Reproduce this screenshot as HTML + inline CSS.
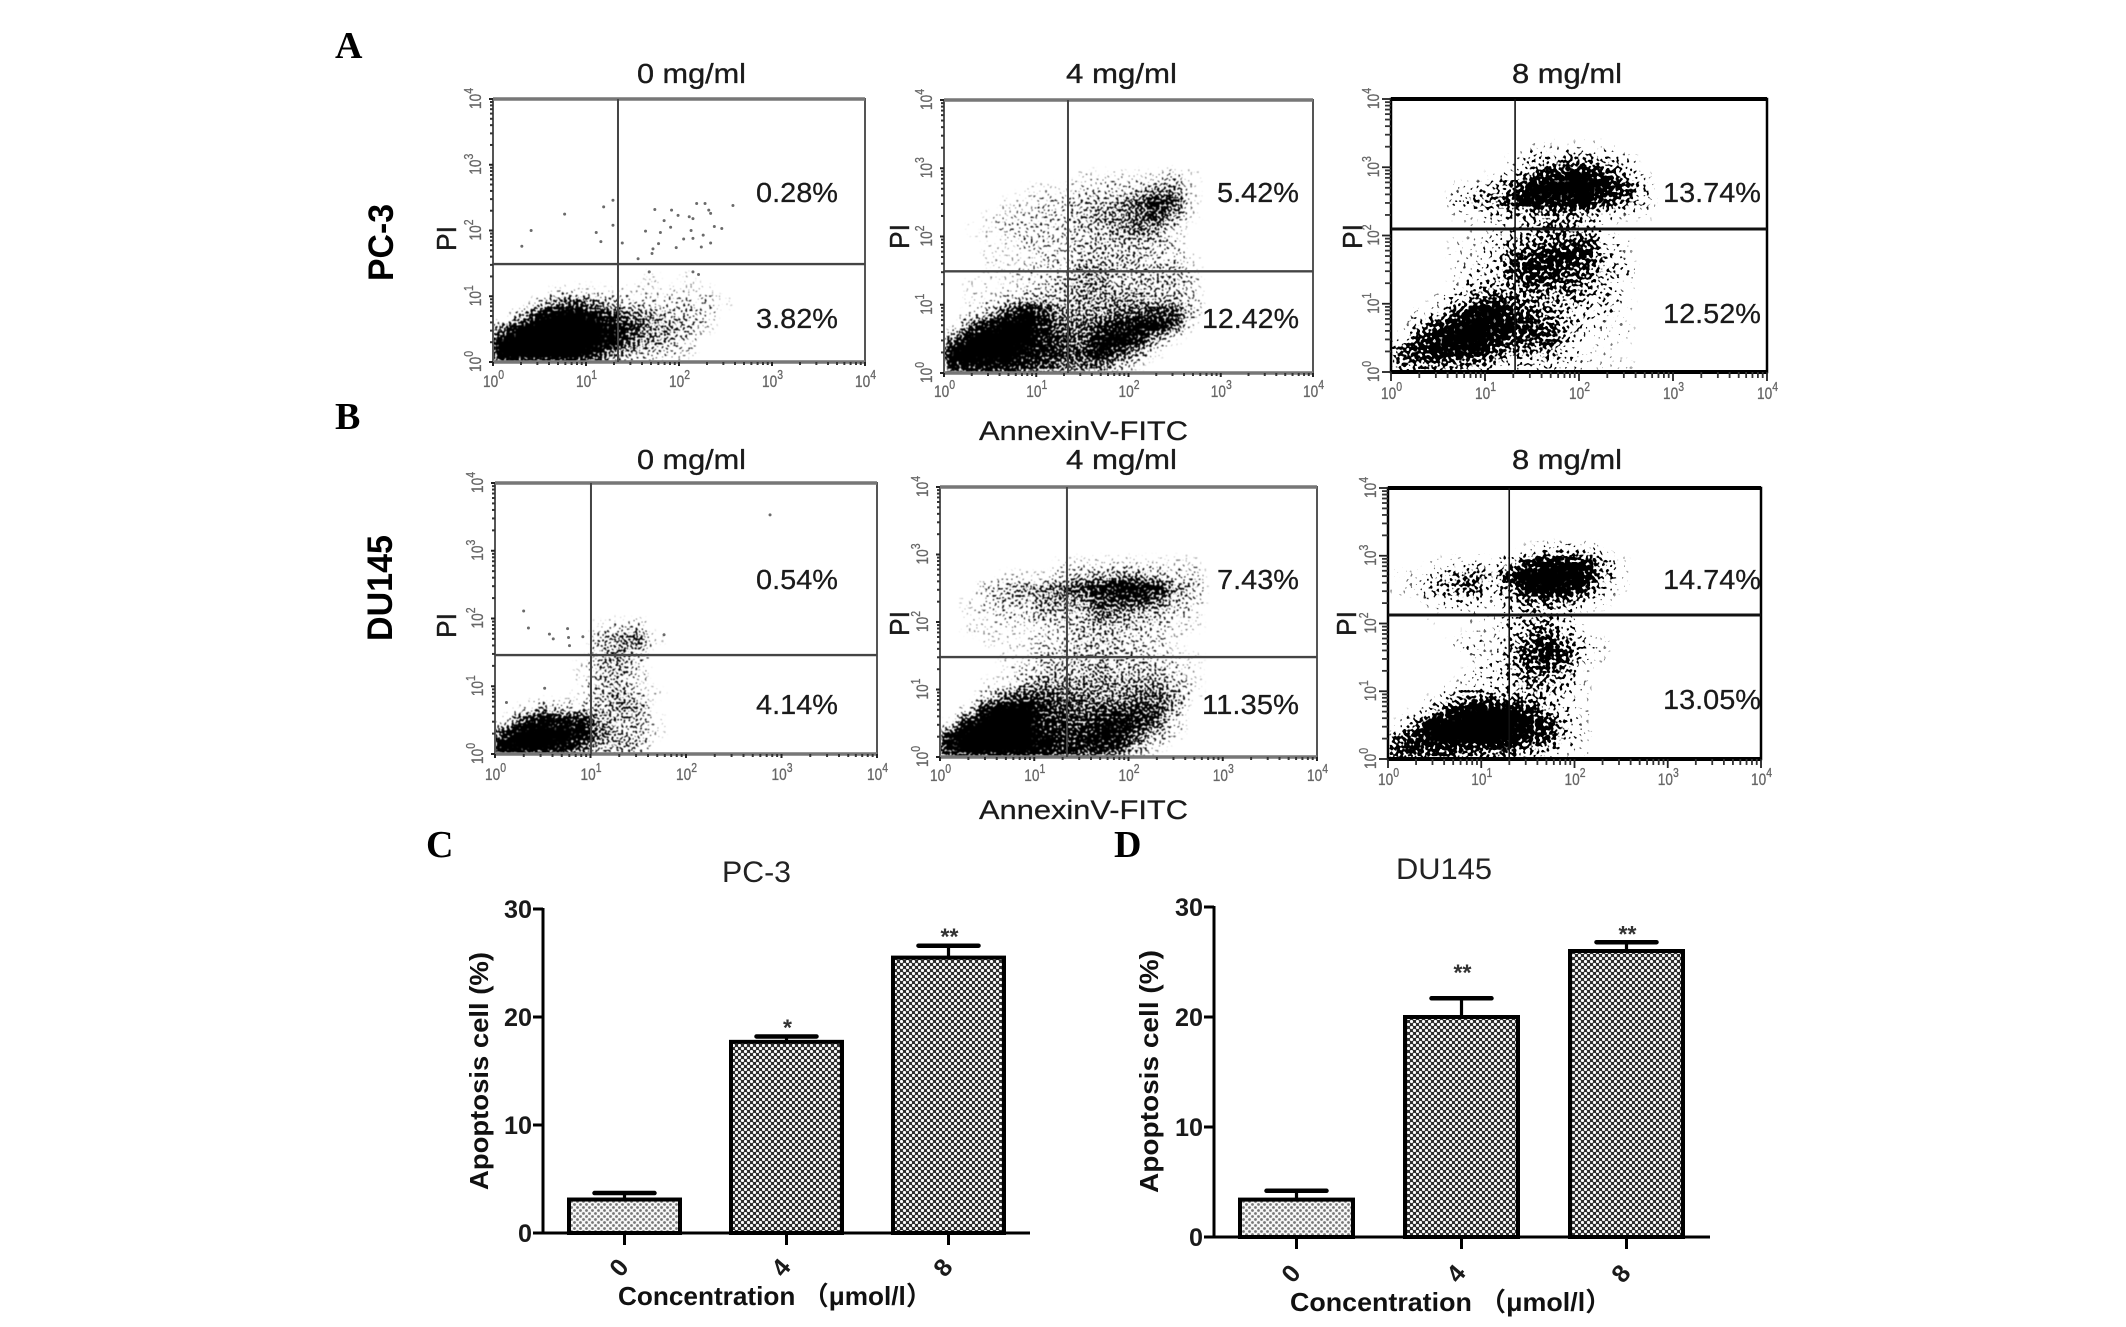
<!DOCTYPE html>
<html lang="en">
<head>
<meta charset="utf-8">
<title>Apoptosis flow cytometry figure</title>
<style>
html,body{margin:0;padding:0;background:#fff;}
svg{display:block;}
text{font-family:"Liberation Sans","Noto Sans CJK SC",sans-serif;fill:#1a1a1a;}
.letter{font-family:"Liberation Serif",serif;font-weight:bold;font-size:38px;fill:#000;}
.cond{font-size:28px;stroke:#1a1a1a;stroke-width:.35;}
.pct{font-size:28px;stroke:#1a1a1a;stroke-width:.25;}
.side{font-size:35px;font-weight:bold;fill:#000;}
.pi{font-size:28px;stroke:#1a1a1a;stroke-width:.4;}
.annex{font-size:27px;stroke:#1a1a1a;stroke-width:.25;}
.bt{font-size:30px;fill:#222;}
.ax{font-size:26px;font-weight:bold;fill:#111;}
</style>
</head>
<body>
<svg id="figure" xmlns="http://www.w3.org/2000/svg" width="2126" height="1327" viewBox="0 0 2126 1327">
<defs>
<pattern id="darkHatch" width="6" height="6" patternUnits="userSpaceOnUse">
<rect width="6" height="6" fill="#2c2c2c"/>
<circle cx="1.5" cy="1.5" r="1.6" fill="#fafafa"/>
<circle cx="4.5" cy="4.5" r="1.6" fill="#fafafa"/>
</pattern>
<pattern id="lightHatch" width="6" height="6" patternUnits="userSpaceOnUse">
<rect width="6" height="6" fill="#f6f6f6"/>
<circle cx="1.5" cy="1.5" r="1.4" fill="#777"/>
<circle cx="4.5" cy="4.5" r="1.4" fill="#777"/>
</pattern>
</defs>

<text class="letter" x="335" y="58">A</text>
<text class="letter" x="335" y="429">B</text>
<text class="letter" x="426" y="857">C</text>
<text class="letter" x="1114" y="857">D</text>

<text class="side" transform="translate(393,281) rotate(-90)" textLength="77" lengthAdjust="spacingAndGlyphs">PC-3</text>
<text class="side" transform="translate(392,641) rotate(-90)" textLength="106" lengthAdjust="spacingAndGlyphs">DU145</text>

<text class="cond" x="637" y="83" textLength="109" lengthAdjust="spacingAndGlyphs">0 mg/ml</text>
<text class="cond" x="1066" y="83" textLength="111" lengthAdjust="spacingAndGlyphs">4 mg/ml</text>
<text class="cond" x="1512" y="83" textLength="110" lengthAdjust="spacingAndGlyphs">8 mg/ml</text>
<text class="cond" x="637" y="469" textLength="109" lengthAdjust="spacingAndGlyphs">0 mg/ml</text>
<text class="cond" x="1066" y="469" textLength="111" lengthAdjust="spacingAndGlyphs">4 mg/ml</text>
<text class="cond" x="1512" y="469" textLength="110" lengthAdjust="spacingAndGlyphs">8 mg/ml</text>

<text class="annex" x="979" y="440" textLength="209" lengthAdjust="spacingAndGlyphs">AnnexinV-FITC</text>
<text class="annex" x="979" y="819" textLength="209" lengthAdjust="spacingAndGlyphs">AnnexinV-FITC</text>

<text class="pi" transform="translate(456,251) rotate(-90)" textLength="25" lengthAdjust="spacingAndGlyphs">PI</text>
<text class="pi" transform="translate(909,249) rotate(-90)" textLength="25" lengthAdjust="spacingAndGlyphs">PI</text>
<text class="pi" transform="translate(1362,249) rotate(-90)" textLength="25" lengthAdjust="spacingAndGlyphs">PI</text>
<text class="pi" transform="translate(456,638) rotate(-90)" textLength="25" lengthAdjust="spacingAndGlyphs">PI</text>
<text class="pi" transform="translate(909,636) rotate(-90)" textLength="25" lengthAdjust="spacingAndGlyphs">PI</text>
<text class="pi" transform="translate(1356,636) rotate(-90)" textLength="25" lengthAdjust="spacingAndGlyphs">PI</text>

<g id="flowLayer"></g>

<text class="pct" x="756" y="202" textLength="82" lengthAdjust="spacingAndGlyphs">0.28%</text>
<text class="pct" x="756" y="328" textLength="82" lengthAdjust="spacingAndGlyphs">3.82%</text>
<text class="pct" x="1217" y="202" textLength="82" lengthAdjust="spacingAndGlyphs">5.42%</text>
<text class="pct" x="1202" y="328" textLength="97" lengthAdjust="spacingAndGlyphs">12.42%</text>
<text class="pct" x="1663" y="202" textLength="98" lengthAdjust="spacingAndGlyphs">13.74%</text>
<text class="pct" x="1663" y="323" textLength="98" lengthAdjust="spacingAndGlyphs">12.52%</text>
<text class="pct" x="756" y="589" textLength="82" lengthAdjust="spacingAndGlyphs">0.54%</text>
<text class="pct" x="756" y="714" textLength="82" lengthAdjust="spacingAndGlyphs">4.14%</text>
<text class="pct" x="1217" y="589" textLength="82" lengthAdjust="spacingAndGlyphs">7.43%</text>
<text class="pct" x="1202" y="714" textLength="97" lengthAdjust="spacingAndGlyphs">11.35%</text>
<text class="pct" x="1663" y="589" textLength="98" lengthAdjust="spacingAndGlyphs">14.74%</text>
<text class="pct" x="1663" y="709" textLength="98" lengthAdjust="spacingAndGlyphs">13.05%</text>

<g id="barLayer"></g>

<text class="bt" x="722" y="882" textLength="69" lengthAdjust="spacingAndGlyphs">PC-3</text>
<text class="bt" x="1396" y="879" textLength="96" lengthAdjust="spacingAndGlyphs">DU145</text>
<text class="ax" transform="translate(488,1190) rotate(-90)" textLength="238" lengthAdjust="spacingAndGlyphs">Apoptosis cell (%)</text>
<text class="ax" transform="translate(1158,1193) rotate(-90)" textLength="243" lengthAdjust="spacingAndGlyphs">Apoptosis cell (%)</text>
<text class="ax" x="618" y="1305" textLength="314" lengthAdjust="spacingAndGlyphs">Concentration （μmol/l）</text>
<text class="ax" x="1290" y="1311" textLength="322" lengthAdjust="spacingAndGlyphs">Concentration （μmol/l）</text>
</svg>

<script>
// Tick exponents shared by all flow plots
const flowTickExponents = [0, 1, 2, 3, 4];

// Density of events per 0.2-decade cell (0-9); rows listed from the bottom (PI 10^0) upward
const a0Density = [
[9,9,9,9,9,7,4,3,2,2,1],
[9,9,9,9,9,9,8,5,4,3,2],
[5,9,9,9,9,9,8,6,4,4,3,1],
[0,3,8,9,9,8,6,5,4,3,3,2],
[0,0,2,5,6,4,3,2,2,2,2,2,1],
[0,0,0,1,1,1,1,1,1,1,1,1],
[0,0,0,0,0,0,0,0,1,0,1]
];
const a4Density = [
[7,8,8,8,7,6,5,5,5,3,1],
[9,9,9,9,8,7,6,6,8,6,4,1],
[5,9,9,9,9,7,6,5,8,9,7,4,1],
[1,5,8,9,9,7,5,5,6,7,8,8,6,1],
[0,1,3,6,8,6,4,4,4,5,5,6,6,2],
[0,1,1,2,3,3,3,4,4,4,4,3,3,2],
[0,1,1,1,1,2,3,4,4,3,3,3,3,2],
[0,0,1,1,2,2,2,4,4,3,3,3,3,1],
[0,0,1,1,1,2,2,3,3,3,3,2,2,1],
[0,0,1,1,2,2,2,3,3,3,3,3,2],
[0,1,1,2,2,2,2,3,3,4,5,4,2],
[0,0,1,2,2,2,2,3,4,4,5,6,4,1],
[0,0,0,1,1,2,2,3,3,4,5,7,6,1],
[0,0,0,0,1,1,1,2,2,2,3,4,4,1],
[0,0,0,0,0,0,0,1,1,1,1,1,2,1]
];
const a8Density = [
[5,4,5,4,4,3,2,2,2,2,1,1,1],
[5,7,8,8,8,6,4,4,4,2,1,1],
[1,6,8,9,9,8,6,6,6,3,1,1,1],
[0,3,6,8,9,8,8,6,5,3,2,1,1],
[0,1,2,5,8,9,6,5,4,3,2,2,1],
[0,0,1,2,4,5,5,4,4,4,3,3,1],
[0,0,0,1,3,3,4,6,5,5,4,2,1],
[0,0,0,1,2,2,6,7,7,6,5,3,2],
[0,0,0,1,1,2,5,6,8,7,6,3,1],
[0,0,0,1,1,2,3,4,5,5,6,2,1],
[0,0,0,0,1,1,2,3,5,4,3,1],
[0,0,0,1,1,2,3,3,4,4,3,2,1,1],
[0,0,0,2,4,4,6,8,8,8,8,6,4,2],
[0,0,0,1,2,3,5,9,9,9,9,8,6,3],
[0,0,0,0,0,1,2,4,7,8,8,6,3,1],
[0,0,0,0,0,0,1,3,3,4,4,3,2],
[0,0,0,0,0,0,0,1,1,1,1,1]
];
const b0Density = [
[9,9,9,8,6,3,4,3],
[7,9,9,9,8,5,3,3,1],
[1,6,8,7,7,4,3,3,1],
[0,1,3,2,2,3,4,4],
[0,0,0,0,1,3,4,2,1],
[0,0,0,0,1,3,3,2],
[0,0,0,0,1,3,4,2],
[0,0,0,0,0,3,4,3],
[0,0,0,0,0,3,4,5,1],
[0,0,0,0,0,1,2,2]
];
const b4Density = [
[8,9,9,9,9,8,7,7,7,6,3,1],
[8,9,9,9,9,8,7,7,8,8,5,3,1],
[1,8,9,9,9,7,6,6,7,8,7,5,2],
[0,2,8,9,9,7,6,5,6,6,6,6,3],
[0,0,2,5,6,6,5,5,4,4,5,5,4,1],
[0,0,1,1,3,4,4,4,4,4,4,4,3,1],
[0,0,0,1,2,3,3,3,4,3,3,3,2,1],
[0,0,0,1,1,2,3,3,3,3,3,2,1,1],
[0,0,1,1,1,2,2,3,3,3,2,2,1],
[0,1,1,1,1,2,2,3,3,3,3,2,1,1],
[0,1,1,2,2,3,3,3,5,4,3,3,2,1],
[0,1,2,3,3,4,4,4,6,6,6,5,3,2],
[0,0,2,3,4,4,5,6,7,8,8,7,4,3],
[0,0,0,1,1,1,2,3,3,4,4,3,2,2],
[0,0,0,0,0,0,1,1,1,1,1,1,1,1]
];
const b8Density = [
[6,6,6,6,5,5,5,3,3,1,1],
[5,7,9,9,9,9,9,6,6,3,1],
[1,5,9,9,9,9,9,8,7,3,1],
[0,1,4,8,9,9,9,7,4,2,1],
[0,0,1,3,5,5,4,4,3,2,1],
[0,0,0,1,2,2,2,4,4,3,1],
[0,0,0,0,1,2,3,5,5,4,1],
[0,0,0,0,1,1,3,6,7,6,2,1],
[0,0,0,1,2,1,3,5,7,5,2,1],
[0,0,0,0,1,1,2,4,5,3,1],
[0,0,1,0,1,1,2,3,3,2],
[0,0,2,2,2,1,2,4,4,4,2,1],
[1,1,3,4,5,2,4,8,9,8,6,2,1],
[1,1,2,4,5,3,6,9,9,9,8,4,1],
[0,0,1,1,2,1,3,6,8,8,7,4,1],
[0,0,0,0,0,0,0,1,2,2,2,1]
];

// Individually readable sparse events: [log10 AnnexinV, log10 PI]
const a0Events = [[1.29,2.46],[1.19,2.36],[0.77,2.25],[0.41,2.00],[0.31,1.76],[1.11,1.97],[1.16,1.83],[1.29,2.08],[1.39,1.81],[1.74,2.32],[1.92,2.31],[1.99,2.23],[2.11,2.21],[2.19,2.41],[2.28,2.41],[2.32,2.31],[2.15,2.18],[2.34,2.26],[2.38,2.06],[2.46,2.03],[2.58,2.38],[1.84,2.15],[1.91,2.05],[1.80,1.97],[1.64,1.99],[1.72,1.72],[1.78,1.80],[1.97,1.74],[2.05,1.87],[2.15,1.88],[2.26,1.93],[2.34,1.81],[2.24,1.75],[2.13,2.00],[1.56,1.57],[1.71,1.65],[1.68,1.37],[2.15,1.37],[2.21,1.33]];
const b0Events = [[0.30,2.11],[0.35,1.86],[0.57,1.77],[0.61,1.70],[0.76,1.85],[0.77,1.72],[0.78,1.60],[0.92,1.73],[2.88,3.53],[1.77,1.76],[0.12,0.76],[0.52,0.97]];

// Quadrant gates: [log10 AnnexinV, log10 PI]
const a0Gate = [1.344, 1.49];
const a4Gate = [1.344, 1.49];
const a8Gate = [1.32, 2.095];
const b0Gate = [1.005, 1.46];
const b4Gate = [1.347, 1.48];
const b8Gate = [1.30, 2.125];

// Bar chart values
const doseCategories = ["0", "4", "8"];
const pc3Means = [3.1, 17.7, 25.5];
const pc3Errors = [0.6, 0.5, 1.1];
const pc3Significance = ["", "*", "**"];
const du145Means = [3.4, 20.0, 26.0];
const du145Errors = [0.8, 1.7, 0.8];
const du145Significance = ["", "**", "**"];
const apoptosisTicks = [0, 10, 20, 30];

const NS = "http://www.w3.org/2000/svg";
function make(tag, attrs, parent) {
  const node = document.createElementNS(NS, tag);
  for (const k in attrs) node.setAttribute(k, attrs[k]);
  parent.appendChild(node);
  return node;
}

const flowLayer = document.getElementById("flowLayer");
const figureDefs = document.querySelector("#figure defs");

function drawFlow(cfg) {
  const xPx = v => cfg.left + v / 4 * (cfg.right - cfg.left);
  const yPx = v => cfg.bottom - v / 4 * (cfg.bottom - cfg.top);
  const g = make("g", {}, flowLayer);
  
  

  const filter = make("filter", {
    id: "speck-" + cfg.id, filterUnits: "userSpaceOnUse",
    x: cfg.left, y: cfg.top, width: cfg.right - cfg.left, height: cfg.bottom - cfg.top,
    "color-interpolation-filters": "sRGB"
  }, figureDefs);
  make("feGaussianBlur", { in: "SourceGraphic", stdDeviation: "5 4", result: "den" }, filter);
  make("feTurbulence", { type: "fractalNoise", baseFrequency: cfg.grain, numOctaves: 1, seed: cfg.seed, result: "tur" }, filter);
  make("feColorMatrix", { in: "tur", type: "matrix", values: "0 0 0 0 0  0 0 0 0 0  0 0 0 0 0  2.5 0 0 0 -0.75", result: "noise" }, filter);
  make("feComposite", { in: "den", in2: "noise", operator: "arithmetic", k1: 0, k2: 0.62, k3: 0.5, k4: 0, result: "sum" }, filter);
  const ct = make("feComponentTransfer", { in: "sum", result: "thr" }, filter);
  make("feFuncA", { type: "linear", slope: 12, intercept: -6.24 }, ct);
  make("feGaussianBlur", { in: "thr", stdDeviation: cfg.soft }, filter);

  const cells = make("g", { filter: "url(#speck-" + cfg.id + ")" }, g);
  
  
  cfg.density.forEach((row, r) => {
    row.forEach((d, c) => {
      if (!d) return;
      const cell = make("rect", {
        x: xPx(c * 0.2), y: yPx((r + 1) * 0.2),
        width: xPx((c + 1) * 0.2) - xPx(c * 0.2),
        height: yPx(r * 0.2) - yPx((r + 1) * 0.2),
        fill: "#000", "fill-opacity": d / 9
      }, cells);
      
      
    });
  });

  cfg.events.forEach(ev => {
    const p = make("circle", { cx: xPx(ev[0]), cy: yPx(ev[1]), r: 1.5, fill: "#6a6a6a" }, g);
    
    
  });

  const frame = make("rect", {
    x: cfg.left, y: cfg.top, width: cfg.right - cfg.left, height: cfg.bottom - cfg.top,
    fill: "none", stroke: cfg.frameColor, "stroke-width": cfg.frameWidth
  }, g);
  
  
  const topEdge = make("line", { x1: cfg.left, x2: cfg.right, y1: cfg.top, y2: cfg.top, stroke: cfg.edgeColor, "stroke-width": cfg.frameWidth + 1.5 }, g);
  
  
  const botEdge = make("line", { x1: cfg.left, x2: cfg.right, y1: cfg.bottom, y2: cfg.bottom, stroke: cfg.edgeColor, "stroke-width": cfg.frameWidth + 1.5 }, g);
  
  

  const gx = make("line", { x1: xPx(cfg.gate[0]), x2: xPx(cfg.gate[0]), y1: cfg.top, y2: cfg.bottom, stroke: cfg.gateColor, "stroke-width": cfg.gateXWidth }, g);
  
  
  const gy = make("line", { x1: cfg.left, x2: cfg.right, y1: yPx(cfg.gate[1]), y2: yPx(cfg.gate[1]), stroke: cfg.gateColor, "stroke-width": cfg.gateYWidth }, g);
  
  

  flowTickExponents.forEach(e => {
    const mx = make("line", { x1: xPx(e), x2: xPx(e), y1: cfg.bottom, y2: cfg.bottom + cfg.tickMajor, stroke: "#222", "stroke-width": cfg.tickWidth }, g);
    
    
    const my = make("line", { x1: cfg.left - cfg.tickMajor, x2: cfg.left, y1: yPx(e), y2: yPx(e), stroke: "#222", "stroke-width": cfg.tickWidth }, g);
    
    
    if (e < 4) {
      for (let m = 2; m <= 9; m++) {
        const lv = e + Math.log10(m);
        const tx = make("line", { x1: xPx(lv), x2: xPx(lv), y1: cfg.bottom, y2: cfg.bottom + cfg.tickMinor, stroke: "#333", "stroke-width": cfg.tickWidth }, g);
        
        
        const ty = make("line", { x1: cfg.left - cfg.tickMinor, x2: cfg.left, y1: yPx(lv), y2: yPx(lv), stroke: "#333", "stroke-width": cfg.tickWidth }, g);
        
        
      }
    }
    const lx = make("text", { x: xPx(e) - 10, y: cfg.bottom + cfg.labelGap, "font-size": 17, style: "fill:#666;stroke:#666;stroke-width:.3", textLength: 21, lengthAdjust: "spacingAndGlyphs" }, g);
    
    
    lx.appendChild(document.createTextNode("10"));
    const sx = make("tspan", { dy: -8, "font-size": 13 }, lx);
    sx.textContent = String(e);

    const ly = make("text", { transform: "translate(" + (cfg.left - 12) + "," + (yPx(e) + 10) + ") rotate(-90)", "font-size": 17, style: "fill:#666;stroke:#666;stroke-width:.3", textLength: 21, lengthAdjust: "spacingAndGlyphs" }, g);
    
    
    ly.appendChild(document.createTextNode("10"));
    const sy = make("tspan", { dy: -8, "font-size": 13 }, ly);
    sy.textContent = String(e);
  });
}

const thin = { frameColor: "#555", edgeColor: "#777", frameWidth: 2, gateColor: "#444", gateXWidth: 2, gateYWidth: 2.4, tickMajor: 4, tickMinor: 3, tickWidth: 2, grain: 0.42, soft: 0.4 };
const bold = { frameColor: "#000", edgeColor: "#000", frameWidth: 2.5, gateColor: "#111", gateXWidth: 1.6, gateYWidth: 3, tickMajor: 9, tickMinor: 6, tickWidth: 1.8, grain: 0.3, soft: 0.35 };

drawFlow(Object.assign({}, thin, { id: "a0", left: 493, right: 865, top: 99, bottom: 362, labelGap: 25, seed: 3, density: a0Density, events: a0Events, gate: a0Gate }));
drawFlow(Object.assign({}, thin, { id: "a4", left: 944, right: 1313, top: 100, bottom: 373, labelGap: 24, seed: 8, density: a4Density, events: [], gate: a4Gate }));
drawFlow(Object.assign({}, bold, { id: "a8", left: 1391, right: 1767, top: 99, bottom: 372, labelGap: 27, seed: 12, density: a8Density, events: [], gate: a8Gate }));
drawFlow(Object.assign({}, thin, { id: "b0", left: 495, right: 877, top: 483, bottom: 754, labelGap: 26, seed: 21, density: b0Density, events: b0Events, gate: b0Gate }));
drawFlow(Object.assign({}, thin, { id: "b4", left: 940, right: 1317, top: 487, bottom: 757, labelGap: 24, seed: 27, density: b4Density, events: [], gate: b4Gate }));
drawFlow(Object.assign({}, bold, { id: "b8", left: 1388, right: 1761, top: 488, bottom: 759, labelGap: 26, seed: 33, density: b8Density, events: [], gate: b8Gate }));

const barLayer = document.getElementById("barLayer");

function drawBars(cfg) {
  const yPx = v => cfg.y0 - v / 30 * (cfg.y0 - cfg.y30);
  const xPx = i => cfg.center0 + i * cfg.step;
  const g = make("g", {}, barLayer);
  
  

  cfg.means.forEach((m, i) => {
    const cx = xPx(i);
    const top = yPx(m + cfg.errors[i]);
    const stem = make("line", { x1: cx, x2: cx, y1: yPx(m), y2: top, stroke: "#000", "stroke-width": 3.2 }, g);
    
    
    const cap = make("line", { x1: cx - 30, x2: cx + 30, y1: top, y2: top, stroke: "#000", "stroke-width": 4.5, "stroke-linecap": "round" }, g);
    
    
    const bar = make("rect", {
      x: cx - cfg.barW / 2, y: yPx(m), width: cfg.barW, height: cfg.y0 - yPx(m),
      fill: i === 0 ? "url(#lightHatch)" : "url(#darkHatch)", stroke: "#000", "stroke-width": 4
    }, g);
    
    
    const tick = make("line", { x1: cx, x2: cx, y1: cfg.y0, y2: cfg.y0 + 12, stroke: "#000", "stroke-width": 3 }, g);
    
    
    const lab = make("text", {
      "text-anchor": "middle", "font-size": 25, "font-weight": "bold",
      transform: "translate(" + (cx + 1) + "," + (cfg.y0 + cfg.catGap) + ") rotate(-50)"
    }, g);
    
    
    lab.textContent = doseCategories[i];
    if (cfg.sig[i]) {
      const star = make("text", { x: cx + 1, y: top - cfg.sigGap[i] + 13, "text-anchor": "middle", "font-size": 23, "font-weight": "bold", style: "fill:#333" }, g);
      
      
      star.textContent = cfg.sig[i];
    }
  });

  const yAxis = make("line", { x1: cfg.axisX, x2: cfg.axisX, y1: cfg.y30 - 1, y2: cfg.y0 + 1, stroke: "#000", "stroke-width": 3 }, g);
  
  
  const xAxis = make("line", { x1: cfg.axisStart, x2: cfg.axisEnd, y1: cfg.y0, y2: cfg.y0, stroke: "#000", "stroke-width": 3 }, g);
  
  

  apoptosisTicks.forEach(v => {
    const t = make("line", { x1: cfg.axisX - 10, x2: cfg.axisX, y1: yPx(v), y2: yPx(v), stroke: "#000", "stroke-width": 3 }, g);
    
    
    const s = String(v);
    const lab = make("text", {
      x: cfg.axisX - 11, y: yPx(v) + 9, "text-anchor": "end", "font-size": 25, "font-weight": "bold",
      textLength: s.length * 14, lengthAdjust: "spacingAndGlyphs"
    }, g);
    
    
    lab.textContent = s;
  });
}

drawBars({ id: "pc3", y0: 1233, y30: 909, center0: 624.5, step: 162, barW: 111, axisX: 543, axisStart: 534, axisEnd: 1030, catGap: 40, means: pc3Means, errors: pc3Errors, sig: pc3Significance, sigGap: [14, 14, 14] });
drawBars({ id: "du145", y0: 1237, y30: 907, center0: 1296.5, step: 165, barW: 113, axisX: 1214, axisStart: 1204, axisEnd: 1710, catGap: 42, means: du145Means, errors: du145Errors, sig: du145Significance, sigGap: [14, 31, 13] });
</script>
</body>
</html>
